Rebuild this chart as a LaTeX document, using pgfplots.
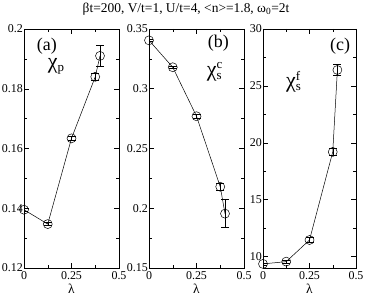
\documentclass[border=0pt]{standalone}
\usepackage{pgfplots}
\pgfplotsset{compat=1.18}
\usepackage{fontspec}
\setmainfont{Liberation Serif}
\begin{document}
\begin{tikzpicture}[x=1bp,y=1bp]
\useasboundingbox (0,0) rectangle (374,296);
\pgfplotsset{panel/.style={
  scale only axis, width=95bp, height=239bp, anchor=south west,
  xmin=0, xmax=0.5, xtick={0,0.25,0.5}, xticklabels={0,0.25,0.5},
  minor x tick num=1, minor y tick num=1,
  tick align=inside, major tick length=5bp, minor tick length=3bp,
  tick style={black, line width=0.5pt},
  axis line style={line width=0.8pt},
  xlabel={λ}, xlabel style={font=\fontsize{13.5}{13.5}\selectfont, inner sep=0pt, at={(axis description cs:0.5,0)}, anchor=center, yshift=-20.5bp},
  ticklabel style={font=\fontsize{12}{12}\selectfont},
  yticklabel style={inner xsep=1bp},
  xticklabel style={inner ysep=3.5bp},
  /pgf/number format/assume math mode=true,
  error bars/error bar style={line width=0.5pt},
  error bars/error mark options={rotate=90, mark size=4bp, line width=0.5pt},
}}
\pgfplotsset{ser/.style={black, line width=0.5pt, mark=o, mark size=4.5bp,
     mark options={line width=0.5pt, fill=none, solid},
     error bars/.cd, y dir=both, y explicit}}
\tikzset{lab/.style={inner sep=0pt, font=\fontsize{18}{18}\selectfont},
         chi/.style={inner sep=0pt, font=\fontsize{22}{22}\selectfont}}
\node[font=\fontsize{13.5}{13.5}\selectfont] at (186,287) {βt=200, V/t=1, U/t=4, <n>=1.8, ω\textsubscript{0}=2t};
% (a)
\begin{axis}[panel, at={(24bp,28bp)}, ymin=0.12, ymax=0.2, ytick={0.12,0.14,0.16,0.18,0.2},
  yticklabels={0.12,0.14,0.16,0.18,0.2}]
\addplot[ser] table[x=x,y=y,y error=e] {
x y e
0 0.1395 0.0004
0.125 0.1347 0.0005
0.25 0.1634 0.0008
0.375 0.184 0.0012
0.4 0.191 0.0035
};
\node[lab] at (rel axis cs:0.24,0.93) {(a)};
\node[chi] at (rel axis cs:0.34,0.845) {χ\textsubscript{\fontsize{13}{13}\selectfont p}};
\end{axis}
% (b)
\begin{axis}[panel, at={(149bp,28bp)}, ymin=0.15, ymax=0.35, ytick={0.15,0.2,0.25,0.3,0.35},
  yticklabels={0.15,0.2,0.25,0.3,0.35}]
\addplot[ser] table[x=x,y=y,y error=e] {
x y e
0 0.3405 0.001
0.125 0.318 0.001
0.25 0.277 0.0015
0.375 0.218 0.003
0.4 0.1955 0.0118
};
\node[lab] at (rel axis cs:0.73,0.94) {(b)};
\node[chi] at (rel axis cs:0.69,0.82) {χ\rlap{\textsuperscript{\fontsize{13}{13}\selectfont c}}\textsubscript{\fontsize{13}{13}\selectfont s}};
\end{axis}
% (c)
\begin{axis}[panel, width=93bp, at={(263bp,28bp)}, ymin=9, ymax=30, ytick={10,15,20,25,30},
  minor ytick={12.5,17.5,22.5,27.5}]
\addplot[ser] table[x=x,y=y,y error=e] {
x y e
0 9.36 0.1
0.125 9.56 0.1
0.25 11.46 0.2
0.375 19.2 0.3
0.4 26.4 0.5
};
\node[lab] at (rel axis cs:0.83,0.93) {(c)};
\node[chi] at (rel axis cs:0.33,0.78) {χ\rlap{\textsuperscript{\fontsize{13}{13}\selectfont f}}\textsubscript{\fontsize{13}{13}\selectfont s}};
\end{axis}
\end{tikzpicture}
\end{document}
